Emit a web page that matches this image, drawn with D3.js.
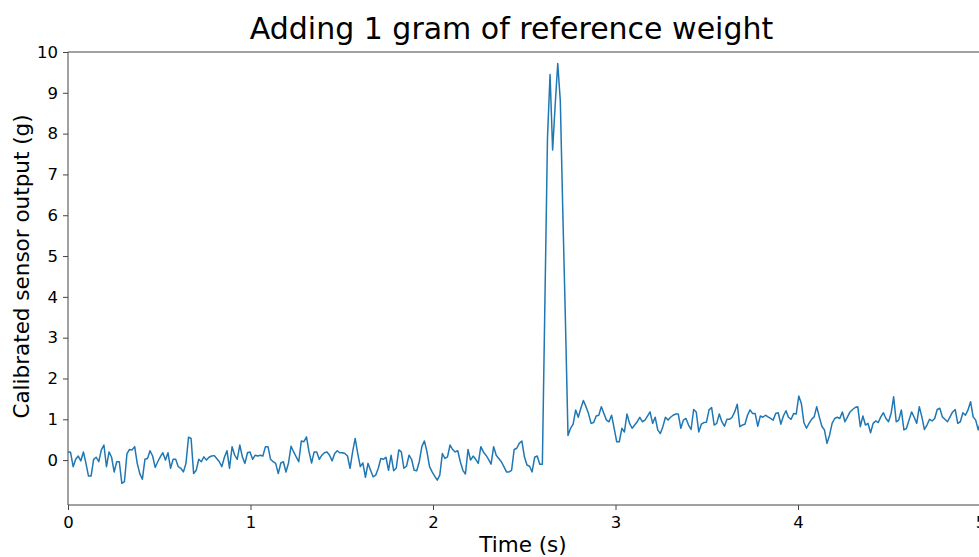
<!DOCTYPE html>
<html>
<head>
<meta charset="utf-8">
<script src="https://cdn.jsdelivr.net/npm/d3@7"></script>
<style>
  html, body { margin: 0; padding: 0; background: #fff; }
  svg { display: block; font-family: "DejaVu Sans", sans-serif; }
</style>
</head>
<body>
<svg id="chart" width="979" height="557"></svg>
<script>
// ---- data ----
const title = "Adding 1 gram of reference weight";
const xLabel = "Time (s)";
const yLabel = "Calibrated sensor output (g)";
const xTicks = [0, 1, 2, 3, 4, 5];
const yTicks = [0, 1, 2, 3, 4, 5, 6, 7, 8, 9, 10];
const sampleInterval = 0.01405; // seconds between samples

const beforeWeight = [
  0.20, 0.19, -0.16, 0.02, 0.10, -0.02, 0.20, -0.08, -0.39, -0.39,
  0.02, 0.07, -0.04, 0.25, 0.37, -0.16, 0.20, 0.07, -0.29, -0.04,
  -0.04, -0.57, -0.53, 0.16, 0.26, 0.25, 0.33, -0.08, -0.33, -0.47,
  0.02, 0.04, 0.23, 0.10, -0.18, -0.04, 0.08, 0.18, 0.00, 0.18,
  -0.20, 0.02, 0.02, -0.16, -0.20,
  -0.29, -0.08, 0.56, 0.53, -0.33, -0.25, 0.02, -0.04, 0.08, 0.00,
  0.07, 0.10, 0.11, 0.04, -0.04, -0.16, 0.07, 0.23, -0.20, 0.33,
  0.12, 0.02, 0.37, 0.08, -0.08, 0.18, 0.20, 0.02, 0.12, 0.10,
  0.12, 0.10, 0.33, 0.33, 0.02, -0.04, -0.08, -0.33, -0.07, -0.04,
  -0.29, -0.07, 0.34, 0.20, 0.08,
  -0.04, 0.47, 0.45, 0.57, 0.20, -0.07, 0.20, 0.20, 0.02, 0.12,
  0.18, 0.20, 0.12, -0.02, 0.16, 0.23, 0.18, 0.18, 0.16, 0.10,
  -0.20, 0.20, 0.53, 0.16, -0.16, -0.07, -0.42, -0.08, -0.25, -0.41,
  -0.37, -0.20, 0.04, 0.02, 0.07, -0.25, 0.12, -0.26, -0.20, 0.25,
  0.20, -0.20, -0.15, 0.12, 0.02, -0.25, -0.26, -0.04,
  0.33, 0.47, 0.20, -0.16, -0.29, -0.39, -0.49, -0.37, 0.16, 0.04,
  0.08, 0.37, 0.26, 0.20, 0.23, -0.04, -0.25, -0.34, 0.26, 0.00,
  0.10, 0.02, -0.08, 0.33, 0.20, 0.12, 0.02, -0.10, 0.33, 0.12,
  0.04, -0.04, -0.16, -0.29, -0.29, -0.25, 0.26, 0.29, 0.41, 0.47,
  0.08, -0.12, -0.15, -0.29, 0.07, 0.10, -0.10, -0.10
];
const impact = [3.9, 7.9, 9.45, 7.6, 8.7, 9.72, 8.8, 6.0, 3.4, 0.6];
const afterWeight = [
  0.78, 0.88, 1.23, 1.05, 1.27, 1.46, 1.31, 1.14, 0.90, 0.92,
  1.08, 1.10, 1.31, 1.14, 0.98, 0.94, 1.10, 0.78, 0.45, 0.45,
  0.78, 0.69, 1.13, 0.90, 0.78, 0.86, 0.94, 1.05, 0.94, 0.98,
  1.08, 1.18, 0.90, 1.05, 0.74, 0.65, 0.82, 1.05, 0.98, 1.05,
  1.10, 1.13, 1.13, 0.78, 0.98, 1.02, 0.86, 0.75, 1.24, 1.18,
  0.69, 0.88, 0.92, 0.93, 1.23, 1.29, 0.86, 0.90, 1.13, 0.94,
  0.83, 1.00, 1.00, 1.05, 1.18, 1.37, 0.82, 0.86, 0.88, 1.10,
  1.23, 1.14, 1.14, 0.83,
  1.08, 1.05, 1.10, 1.06, 1.02, 0.98, 1.14, 1.16, 0.88, 1.08,
  1.21, 1.05, 1.00, 1.14, 1.13, 1.57, 1.39, 0.92, 0.78, 0.90,
  1.00, 1.06, 1.31, 1.06, 0.83, 0.74, 0.41, 0.61, 0.90, 1.02,
  1.05, 1.02, 1.18, 0.94, 1.06, 1.18, 1.24, 1.29, 1.31, 0.82,
  1.08, 0.86, 0.90, 0.67, 0.90, 0.96, 0.92, 1.06, 1.16, 1.02,
  0.94, 1.14, 1.55, 0.94, 0.98, 1.23, 0.74, 0.78, 0.98, 1.18,
  1.05, 0.90, 1.31, 1.06, 0.75, 0.86, 1.00, 0.96, 1.02, 1.24,
  1.27, 1.06, 1.00, 0.94, 1.06, 1.18, 1.24, 0.90, 0.94, 1.16,
  1.10, 1.23, 1.43, 1.06, 0.98, 0.74, 0.98, 1.24
];

// ---- build ----
const readings = beforeWeight.concat(impact, afterWeight);
const series = readings.map((v, i) => ({ t: i * sampleInterval, v: v }));

const svg = d3.select("#chart");
const margin = { left: 68, top: 52, bottom: 505 };
const pxPerSecond = 182.5;
const xMax = 5.1;

const x = d3.scaleLinear().domain([0, xMax]).range([margin.left, margin.left + xMax * pxPerSecond]);
const y = d3.scaleLinear().domain([-1.1, 10]).range([margin.bottom, margin.top]);

svg.append("defs").append("clipPath").attr("id", "plotClip")
  .append("rect")
  .attr("x", x(0)).attr("y", y(10))
  .attr("width", x(xMax) - x(0)).attr("height", y(-1.1) - y(10));

// line
svg.append("path")
  .datum(series)
  .attr("clip-path", "url(#plotClip)")
  .attr("fill", "none")
  .attr("stroke", "#1f77b4")
  .attr("stroke-width", 1.5)
  .attr("stroke-linejoin", "round")
  .attr("d", d3.line().x(d => x(d.t)).y(d => y(d.v)));

// spines
const spine = svg.append("g").attr("stroke", "#444").attr("stroke-width", 1).attr("fill", "none");
spine.append("line").attr("x1", x(0)).attr("x2", x(0)).attr("y1", y(10)).attr("y2", y(-1.1));
spine.append("line").attr("x1", x(0)).attr("x2", x(xMax)).attr("y1", y(10)).attr("y2", y(10));
spine.append("line").attr("x1", x(0)).attr("x2", x(xMax)).attr("y1", y(-1.1)).attr("y2", y(-1.1));
spine.append("line").attr("x1", x(xMax)).attr("x2", x(xMax)).attr("y1", y(10)).attr("y2", y(-1.1));

// axes
const xAxis = d3.axisBottom(x).tickValues(xTicks).tickFormat(d3.format("d")).tickSizeInner(5).tickSizeOuter(0).tickPadding(6);
const gx = svg.append("g").attr("transform", `translate(0,${y(-1.1)})`).call(xAxis);
const yAxis = d3.axisLeft(y).tickValues(yTicks).tickFormat(d3.format("d")).tickSizeInner(5).tickSizeOuter(0).tickPadding(5);
const gy = svg.append("g").attr("transform", `translate(${x(0)},0)`).call(yAxis);
[gx, gy].forEach(g => {
  g.select(".domain").remove();
  g.selectAll(".tick line").attr("stroke", "#444");
  g.selectAll(".tick text").attr("fill", "#000").style("font-size", "16.5px").style("font-family", "DejaVu Sans, sans-serif");
});

// title & labels
svg.append("text").attr("x", 511.5).attr("y", 39).attr("text-anchor", "middle")
  .style("font-size", "30px").attr("fill", "#000").text(title);
svg.append("text").attr("x", 523).attr("y", 552).attr("text-anchor", "middle")
  .style("font-size", "21.5px").attr("fill", "#000").text(xLabel);
svg.append("text").attr("transform", `translate(29,${(y(10) + y(-1.1)) / 2 - 12}) rotate(-90)`)
  .attr("text-anchor", "middle").style("font-size", "21.5px").attr("fill", "#000").text(yLabel);
</script>
</body>
</html>
